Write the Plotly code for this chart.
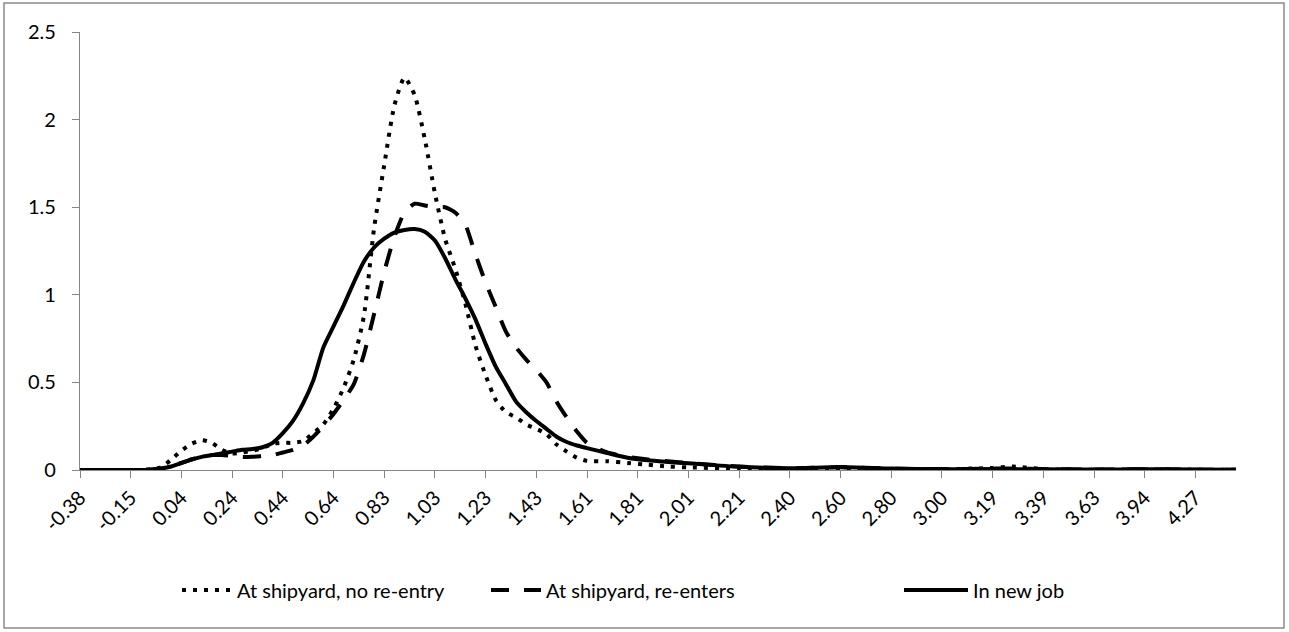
import plotly.graph_objects as go

# Category positions (index along the categorical x axis, 229 categories: 0..228)
cat_pos = [0, 10, 14, 16, 18, 20, 22, 24, 26, 28, 30, 32, 34, 36, 38, 40, 42, 44, 46, 48,
           50, 52, 54, 56, 58, 60, 62, 64, 66, 68, 70, 72, 74, 76, 78, 80, 82, 84, 86, 88,
           90, 92, 94, 96, 98, 100, 104, 108, 112, 116, 120, 130, 140, 150, 160, 170, 180,
           184, 190, 200, 210, 220, 228]

no_reentry = [0, 0, 0.003, 0.015, 0.06, 0.11, 0.15, 0.17, 0.155, 0.115, 0.095, 0.10, 0.11,
              0.125, 0.15, 0.155, 0.155, 0.165, 0.21, 0.26, 0.35, 0.47, 0.63, 0.88, 1.38,
              1.74, 2.08, 2.24, 2.14, 1.89, 1.58, 1.32, 1.15, 0.95, 0.71, 0.54, 0.40, 0.33,
              0.30, 0.26, 0.235, 0.205, 0.145, 0.105, 0.07, 0.052, 0.05, 0.04, 0.03, 0.02,
              0.015, 0.008, 0.006, 0.01, 0.005, 0.004, 0.012, 0.02, 0.005, 0.002, 0.003,
              0.002, 0.001]

reenters = [0, 0, 0.003, 0.008, 0.02, 0.04, 0.06, 0.075, 0.085, 0.085, 0.08, 0.075, 0.075,
            0.08, 0.085, 0.10, 0.115, 0.14, 0.19, 0.25, 0.32, 0.40, 0.49, 0.66, 0.89, 1.13,
            1.33, 1.47, 1.52, 1.51, 1.50, 1.50, 1.47, 1.40, 1.23, 1.07, 0.93, 0.79, 0.70,
            0.63, 0.57, 0.50, 0.39, 0.30, 0.22, 0.155, 0.10, 0.075, 0.06, 0.05, 0.04, 0.02,
            0.01, 0.015, 0.008, 0.005, 0.008, 0.008, 0.005, 0.003, 0.004, 0.002, 0.001]

new_job = [0, 0, 0.002, 0.008, 0.02, 0.04, 0.06, 0.075, 0.085, 0.095, 0.105, 0.115, 0.12,
           0.13, 0.155, 0.21, 0.28, 0.38, 0.51, 0.70, 0.82, 0.94, 1.07, 1.19, 1.27, 1.32,
           1.355, 1.37, 1.375, 1.36, 1.31, 1.21, 1.09, 0.98, 0.86, 0.72, 0.59, 0.49, 0.39,
           0.33, 0.28, 0.235, 0.19, 0.16, 0.14, 0.125, 0.097, 0.07, 0.055, 0.046, 0.038,
           0.018, 0.01, 0.017, 0.008, 0.004, 0.006, 0.005, 0.004, 0.003, 0.004, 0.003, 0.002]

x_tick_pos = list(range(0, 221, 10))
x_tick_labels = ["-0.38", "-0.15", "0.04", "0.24", "0.44", "0.64", "0.83", "1.03", "1.23",
                 "1.43", "1.61", "1.81", "2.01", "2.21", "2.40", "2.60", "2.80", "3.00",
                 "3.19", "3.39", "3.63", "3.94", "4.27"]
y_ticks = [0, 0.5, 1, 1.5, 2, 2.5]
y_tick_labels = ["0", "0.5", "1", "1.5", "2", "2.5"]

series_names = ["At shipyard, no re-entry", "At shipyard, re-enters", "In new job"]

FONT = "Lato, 'Open Sans', sans-serif"
AXIS_GRAY = "#868686"

fig = go.Figure()
fig.add_trace(go.Scatter(x=cat_pos, y=no_reentry, mode="lines", name=series_names[0],
                         line=dict(color="black", width=4, dash="4px,7px", shape="spline", smoothing=0.6),
                         cliponaxis=False, legend="legend"))
fig.add_trace(go.Scatter(x=cat_pos, y=reenters, mode="lines", name=series_names[1],
                         line=dict(color="black", width=4, dash="18px,15px", shape="spline", smoothing=0.6),
                         cliponaxis=False, legend="legend2"))
fig.add_trace(go.Scatter(x=cat_pos, y=new_job, mode="lines", name=series_names[2],
                         line=dict(color="black", width=4, shape="spline", smoothing=0.6),
                         cliponaxis=False, legend="legend3"))

W, H = 1289, 632
L, R, T, B = 80, 53, 32, 162
pw, ph = W - L - R, H - T - B

def px_x(px):
    return (px - L) / pw

def px_y(py):
    return (H - B - py) / ph

legend_common = dict(orientation="h", yanchor="middle", xanchor="left",
                     font=dict(family=FONT, size=20, color="black"),
                     bgcolor="rgba(0,0,0,0)", borderwidth=0)

fig.update_layout(
    width=W, height=H,
    margin=dict(l=L, r=R, t=T, b=B),
    paper_bgcolor="white", plot_bgcolor="white",
    font=dict(family=FONT, size=20, color="black"),
    showlegend=True,
    legend=dict(x=px_x(177), y=px_y(590), itemwidth=50, **legend_common),
    legend2=dict(x=px_x(486), y=px_y(590), itemwidth=50, **legend_common),
    legend3=dict(x=px_x(899), y=px_y(590), itemwidth=64, **legend_common),
    xaxis=dict(range=[0, 228], tickmode="array", tickvals=x_tick_pos, ticktext=x_tick_labels,
               tickangle=-45, ticks="outside", ticklen=7, tickwidth=1.3, tickcolor=AXIS_GRAY,
               showline=True, linecolor=AXIS_GRAY, linewidth=1.3, showgrid=False, zeroline=False,
               tickfont=dict(family=FONT, size=20, color="black"), fixedrange=True),
    yaxis=dict(range=[0, 2.5], tickmode="array", tickvals=y_ticks, ticktext=y_tick_labels,
               ticks="outside", ticklen=7, tickwidth=1.3, tickcolor=AXIS_GRAY,
               showline=True, linecolor=AXIS_GRAY, linewidth=1.3, showgrid=False, zeroline=False,
               ticklabelstandoff=12,
               tickfont=dict(family=FONT, size=20, color="black"), fixedrange=True),
    shapes=[dict(type="rect", xref="paper", yref="paper",
                 x0=px_x(4), x1=px_x(1284), y0=px_y(628), y1=px_y(3),
                 line=dict(color="#8a8a8a", width=1.5), fillcolor="rgba(0,0,0,0)", layer="below")],
)

fig.write_html("out.html", config={"displayModeBar": False})
